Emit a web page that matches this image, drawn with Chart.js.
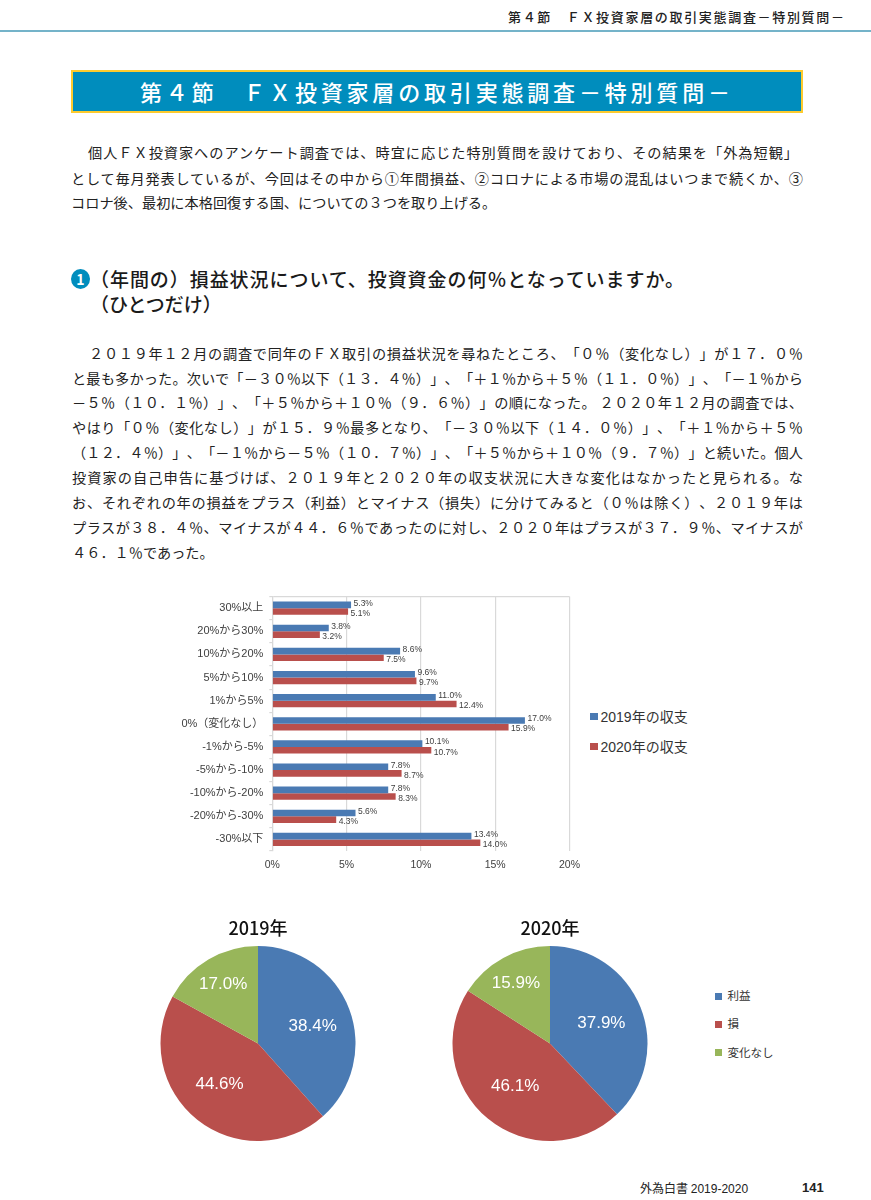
<!DOCTYPE html>
<html lang="ja">
<head>
<meta charset="utf-8">
<title>第４節 ＦＸ投資家層の取引実態調査</title>
<script src="https://cdn.jsdelivr.net/npm/chart.js@4"></script>
<style>
  html, body { margin: 0; padding: 0; background: #fff; }
  body { position: relative; width: 871px; height: 1200px; overflow: hidden;
         font-family: "Noto Sans CJK JP", sans-serif; color: #222; text-spacing-trim: space-all; }
  .abs { position: absolute; white-space: nowrap; }
  .line { font-size: 14.2px; line-height: 20px; text-align: justify; text-align-last: justify; white-space: nowrap; }
  .last { text-align-last: left; }
  canvas { position: absolute; }
  .swatch { position: absolute; }
</style>
</head>
<body>
<div class="abs" id="runHead" style="left:508px;top:8px;width:336px;font-size:13px;line-height:18px;font-weight:500;text-align-last:justify;">第４節　ＦＸ投資家層の取引実態調査－特別質問－</div>
<div class="abs" style="left:0;top:30px;width:871px;height:2px;background:#74b3c9;"></div>
<div class="abs" style="left:71px;top:70px;width:728px;height:39px;background:#008dbd;border:2px solid #fdcb2e;"></div>
<div class="abs" style="left:140px;top:76px;width:590px;font-size:22px;line-height:31px;color:#fff;font-weight:500;text-align-last:justify;">第４節　ＦＸ投資家層の取引実態調査－特別質問－</div>

<div class="abs" style="left:71px;top:269px;width:19px;height:20px;border-radius:50%;background:#008dbd;color:#fff;font-size:14px;line-height:20px;text-align:center;font-weight:700;">1</div>
<div class="abs" style="left:90px;top:266px;width:594px;font-size:19px;line-height:26px;font-weight:500;color:#1a1a1a;text-align-last:justify;">（年間の）損益状況について、投資資金の何％となっていますか。</div>
<div class="abs" style="left:90px;top:291px;font-size:19px;line-height:26px;font-weight:500;color:#1a1a1a;">（ひとつだけ）</div>

<div id="text"></div>

<canvas id="barChart" style="left:180px;top:584px;"></canvas>
<div id="barLegend"></div>
<canvas id="pie2019" style="left:158px;top:916px;"></canvas>
<canvas id="pie2020" style="left:450px;top:916px;"></canvas>
<div id="pieLegend"></div>

<div class="abs" style="left:640px;top:1180px;font-size:12px;line-height:16px;color:#222;">外為白書 <span style="font-family:'Liberation Sans'">2019-2020</span></div>
<div class="abs" style="left:802px;top:1180px;font-family:'Liberation Sans';font-size:13px;line-height:16px;font-weight:700;color:#222;">141</div>

<script>
const introLines = [
  "個人ＦＸ投資家へのアンケート調査では、時宜に応じた特別質問を設けており、その結果を「外為短観」",
  "として毎月発表しているが、今回はその中から①年間損益、②コロナによる市場の混乱はいつまで続くか、③",
  "コロナ後、最初に本格回復する国、についての３つを取り上げる。",
];
const bodyLines = [
  "２０１９年１２月の調査で同年のＦＸ取引の損益状況を尋ねたところ、「０％（変化なし）」が１７．０％",
  "と最も多かった。次いで「－３０％以下（１３．４％）」、「＋１％から＋５％（１１．０％）」、「－１％から",
  "－５％（１０．１％）」、「＋５％から＋１０％（９．６％）」の順になった。 ２０２０年１２月の調査では、",
  "やはり「０％（変化なし）」が１５．９％最多となり、「－３０％以下（１４．０％）」、「＋１％から＋５％",
  "（１２．４％）」、「－１％から－５％（１０．７％）」、「＋５％から＋１０％（９．７％）」と続いた。個人",
  "投資家の自己申告に基づけば、２０１９年と２０２０年の収支状況に大きな変化はなかったと見られる。な",
  "お、それぞれの年の損益をプラス（利益）とマイナス（損失）に分けてみると（０％は除く）、２０１９年は",
  "プラスが３８．４％、マイナスが４４．６％であったのに対し、２０２０年はプラスが３７．９％、マイナスが",
  "４６．１％であった。",
];

const categories = ["30%以上", "20%から30%", "10%から20%", "5%から10%", "1%から5%", "0%（変化なし）",
  "-1%から-5%", "-5%から-10%", "-10%から-20%", "-20%から-30%", "-30%以下"];
const values2019 = [5.3, 3.8, 8.6, 9.6, 11.0, 17.0, 10.1, 7.8, 7.8, 5.6, 13.4];
const values2020 = [5.1, 3.2, 7.5, 9.7, 12.4, 15.9, 10.7, 8.7, 8.3, 4.3, 14.0];
const seriesNames = ["2019年の収支", "2020年の収支"];
const xTicks = [0, 5, 10, 15, 20];

const pieLabels = ["利益", "損", "変化なし"];
const pie2019Values = [38.4, 44.6, 17.0];
const pie2020Values = [37.9, 46.1, 15.9];

const BLUE = "#4a7ab3";
const RED = "#b94f4c";
const GREEN = "#98b65a";
const GRID = "#d9d9d9";
const LATIN = '"Liberation Sans", "Noto Sans CJK JP", sans-serif';

Chart.defaults.animation = false;
Chart.defaults.responsive = false;
Chart.defaults.font.family = LATIN;

const addLine = (text, left, top, width, isLast) => {
  const el = document.createElement("div");
  el.className = "abs line" + (isLast ? " last" : "");
  el.style.cssText = `left:${left}px;top:${top}px;` + (isLast ? "" : `width:${width}px;`);
  el.textContent = text;
  document.getElementById("text").appendChild(el);
};

const renderText = () => {
  const introTops = [142, 167.5, 192];
  introLines.forEach((t, i) => {
    const left = i === 0 ? 88 : 71;
    addLine(t, left, introTops[i], 803 - left - (i === 0 ? 5 : 0), i === 2);
  });
  const bodyTops = [343, 368, 392, 417, 442, 467, 492, 517, 542];
  bodyLines.forEach((t, i) => {
    const left = i === 0 ? 89 : 72;
    addLine(t, left, bodyTops[i], 803 - left, i === 8);
  });
};

const addLegend = (hostId, names, colors, swatchX, textX, ys, size, fontSize) => {
  const host = document.getElementById(hostId);
  names.forEach((name, i) => {
    const sw = document.createElement("div");
    sw.className = "swatch";
    sw.style.cssText = `left:${swatchX}px;top:${ys[i] - size / 2}px;width:${size}px;height:${size}px;background:${colors[i]};`;
    host.appendChild(sw);
    const label = document.createElement("div");
    label.className = "abs";
    label.style.cssText = `left:${textX}px;top:${ys[i] - 10}px;line-height:20px;font-size:${fontSize}px;color:#333;font-family:${LATIN.replace(/"/g, "'")};`;
    label.textContent = name;
    host.appendChild(label);
  });
};

// small value labels at the end of each bar
const barValueLabels = {
  id: "barValueLabels",
  afterDatasetsDraw(chart) {
    const { ctx } = chart;
    ctx.save();
    ctx.font = "8.5px " + LATIN;
    ctx.fillStyle = "#404040";
    ctx.textAlign = "left";
    ctx.textBaseline = "middle";
    chart.data.datasets.forEach((ds, d) => {
      chart.getDatasetMeta(d).data.forEach((bar, i) => {
        ctx.fillText(ds.data[i].toFixed(1) + "%", bar.x + 2.5, bar.y + (d === 0 ? -1.5 : 2));
      });
    });
    ctx.restore();
  },
};

const renderBarChart = () => {
  const canvas = document.getElementById("barChart");
  canvas.width = 408;
  canvas.height = 296;
  const data = {
    labels: categories,
    datasets: [
      { label: seriesNames[0], data: values2019, backgroundColor: BLUE },
      { label: seriesNames[1], data: values2020, backgroundColor: RED },
    ],
  };
  const options = {
    indexAxis: "y",
    plugins: { legend: { display: false }, tooltip: { enabled: false } },
    datasets: { bar: { categoryPercentage: 0.57, barPercentage: 1 } },
    scales: {
      x: {
        min: 0,
        max: 20,
        afterBuildTicks: (scale) => { scale.ticks = xTicks.map((value) => ({ value })); },
        afterFit: (scale) => { scale.height = 29; },
        ticks: { callback: (v) => v + "%", color: "#404040", font: { size: 10.5 }, padding: 8, maxRotation: 0 },
        grid: { color: GRID, lineWidth: 1.2, drawTicks: false },
        border: { display: false },
      },
      y: {
        afterFit: (scale) => { scale.width = 92.3; },
        ticks: { color: "#404040", font: { size: 11 }, padding: 6, autoSkip: false },
        grid: {
          color: (c) => (c.index === 0 ? GRID : "transparent"),
          tickColor: GRID,
          tickLength: 3,
          lineWidth: 1.2,
        },
        border: { color: GRID, width: 1.2 },
      },
    },
  };
  new Chart(canvas, { type: "bar", data, options, plugins: [barValueLabels] });
};

// white percent labels inside the slices; nudge per slice
const sliceLabels = {
  id: "sliceLabels",
  afterDatasetsDraw(chart, args, opts) {
    const { ctx } = chart;
    ctx.save();
    ctx.font = "17px " + LATIN;
    ctx.fillStyle = "#fff";
    ctx.textAlign = "center";
    ctx.textBaseline = "middle";
    chart.getDatasetMeta(0).data.forEach((arc, i) => {
      const mid = (arc.startAngle + arc.endAngle) / 2;
      const r = arc.outerRadius * 0.6;
      const [dx, dy] = opts.shift[i];
      ctx.fillText(chart.data.datasets[0].data[i].toFixed(1) + "%",
        arc.x + Math.cos(mid) * r + dx, arc.y + Math.sin(mid) * r + dy);
    });
    ctx.restore();
  },
};

const renderPie = (id, year, values, shift) => {
  const canvas = document.getElementById(id);
  canvas.width = 200;
  canvas.height = 225;
  new Chart(canvas, {
    type: "pie",
    data: {
      labels: pieLabels,
      datasets: [{ data: values, backgroundColor: [BLUE, RED, GREEN], borderWidth: 0 }],
    },
    options: {
      plugins: {
        legend: { display: false },
        tooltip: { enabled: false },
        title: {
          display: true,
          text: year,
          color: "#111",
          font: { size: 18, weight: "500", family: '"Noto Sans CJK JP", sans-serif' },
          padding: { top: 1, bottom: 7.4 },
        },
        sliceLabels: { shift },
      },
    },
    plugins: [sliceLabels],
  });
};

renderText();
renderBarChart();
renderPie("pie2019", "2019年", pie2019Values, [[0, 4], [-2, -5], [-5, -9]]);
renderPie("pie2020", "2020年", pie2020Values, [[-3, 1], [2.5, -2], [-6, -9]]);
addLegend("barLegend", seriesNames, [BLUE, RED], 590, 600.5, [716.5, 746.5], 7.5, 14);
addLegend("pieLegend", pieLabels, [BLUE, RED, GREEN], 715, 727.5, [996, 1024, 1052.5], 7, 11.5);
</script>
</body>
</html>
